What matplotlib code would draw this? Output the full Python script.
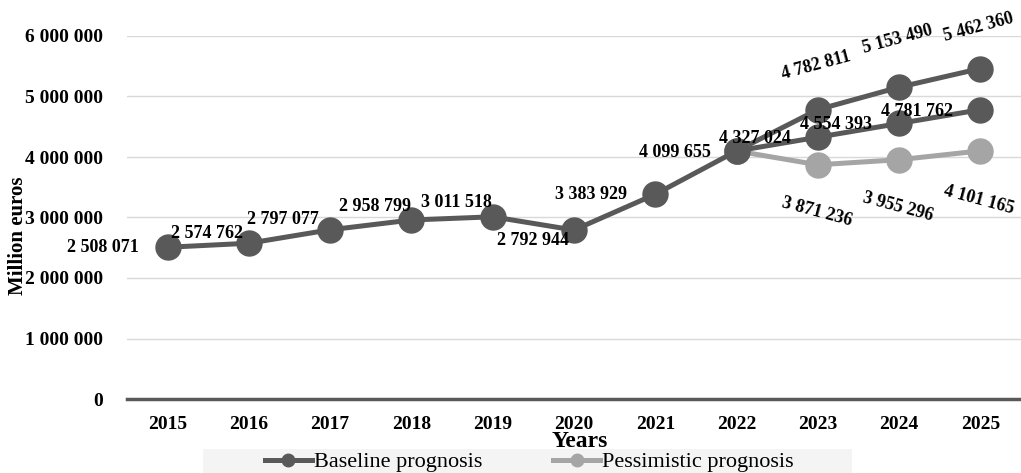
import matplotlib
matplotlib.use('Agg')
import matplotlib.pyplot as plt
from matplotlib.lines import Line2D
from matplotlib.patches import Rectangle

plt.rcParams['font.family'] = ['Liberation Serif', 'DejaVu Serif']

years = ['2015', '2016', '2017', '2018', '2019', '2020', '2021', '2022', '2023', '2024', '2025']
baseline = [2508071, 2574762, 2797077, 2958799, 3011518, 2792944, 3383929, 4099655,
            4327024, 4554393, 4781762]
# optimistic and pessimistic scenarios branch off from 2022
optimistic = [4099655, 4782811, 5153490, 5462360]
pessimistic = [4099655, 3871236, 3955296, 4101165]
yticks = [0, 1000000, 2000000, 3000000, 4000000, 5000000, 6000000]

# label offsets in pixels (dx, dy), dy positive = up
base_off = [(-65, 0), (-42, 10), (-47, 10), (-36, 13), (-36, 14), (-41, -10), (-64, 0),
            (-62, -2), (-63, -1), (-63, -1), (-63, -2)]
opt_off = [(-2, 44), (-2, 48), (-2, 41)]
pes_off = [(-1, -47), (-1, -47), (-1, -49)]

dark = '#595959'
light = '#a5a5a5'

def fmt(v):
    return f'{v:,}'.replace(',', ' ')

fig = plt.figure(figsize=(10.21, 4.73), dpi=100)
ax = fig.add_axes([127 / 1021, 1 - 399 / 473, 894 / 1021, 363 / 473])

x = list(range(len(years)))
xb = x[7:]
ax.plot(xb, optimistic, color=dark, lw=3.6, marker='o', ms=18, zorder=3)
ax.plot(xb, pessimistic, color=light, lw=3.6, marker='o', ms=18, zorder=3)
ax.plot(x, baseline, color=dark, lw=3.6, marker='o', ms=18, zorder=4)

lab = dict(fontsize=13, fontweight='bold', ha='center', va='center',
           textcoords='offset pixels', zorder=5)
for i, v in enumerate(baseline):
    ax.annotate(fmt(v), (x[i], v), xytext=base_off[i], **lab)
for j, v in enumerate(optimistic[1:]):
    ax.annotate(fmt(v), (xb[j + 1], v), xytext=opt_off[j], rotation=15, **lab)
for j, v in enumerate(pessimistic[1:]):
    ax.annotate(fmt(v), (xb[j + 1], v), xytext=pes_off[j], rotation=-15, **lab)

ax.set_xlim(-0.5, len(years) - 0.5)
ax.set_ylim(0, 6000000)
ax.set_yticks(yticks)
ax.set_yticklabels([fmt(t) for t in yticks], fontsize=14, fontweight='bold')
ax.set_xticks(x)
ax.set_xticklabels(years, fontsize=14, fontweight='bold')
ax.tick_params(length=0, pad=12)
ax.tick_params(axis='y', pad=17)
ax.grid(axis='y', color='#d9d9d9', lw=1)
ax.set_axisbelow(True)
for s in ['top', 'right', 'left']:
    ax.spines[s].set_visible(False)
ax.spines['bottom'].set_color(dark)
ax.spines['bottom'].set_linewidth(2.5)

# legend background strip
fig.add_artist(Rectangle((203 / 1021, 0), 649 / 1021, 24 / 473, transform=fig.transFigure,
                         facecolor='#f4f4f4', edgecolor='none', zorder=0))

fig.text(580 / 1021, 1 - 441 / 473, 'Years', fontsize=17, fontweight='bold',
         ha='center', va='center', zorder=3)
fig.text(18 / 1021, 1 - 236 / 473, 'Million euros', rotation=90, fontsize=15,
         fontweight='bold', ha='center', va='center')

handles = [Line2D([], [], color=dark, lw=3.6, marker='o', ms=9),
           Line2D([], [], color=light, lw=3.6, marker='o', ms=9)]
fig.legend(handles, ['Baseline prognosis', 'Pessimistic prognosis'], ncol=2,
           loc='center left', bbox_to_anchor=(265 / 1021, 1 - 462 / 473),
           fontsize=16, frameon=False, handlelength=2.1, handletextpad=0.1,
           columnspacing=3.2, borderpad=0, borderaxespad=0)

fig.savefig('out.png', dpi=100)
